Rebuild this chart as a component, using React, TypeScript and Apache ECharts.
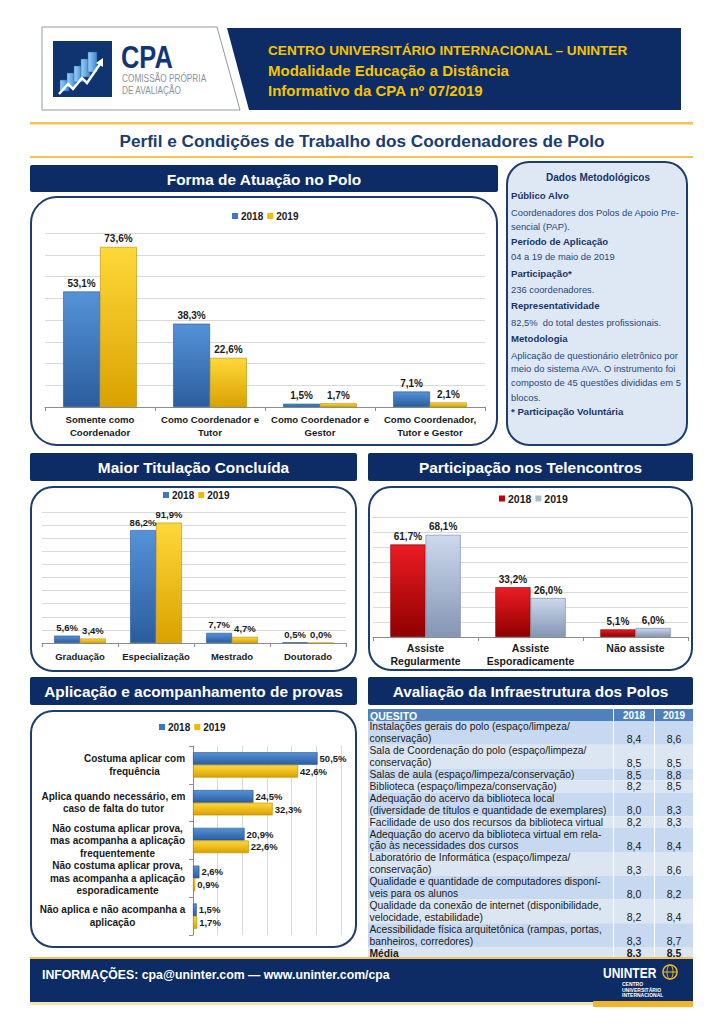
import React, { useEffect, useRef } from 'react';
import * as echarts from 'echarts';

// ---------- DATA ----------
const formaCats = ['Somente como\nCoordenador', 'Como Coordenador e\nTutor', 'Como Coordenador e\nGestor', 'Como Coordenador,\nTutor e Gestor'];
const forma2018 = [53.1, 38.3, 1.5, 7.1];
const forma2019 = [73.6, 22.6, 1.7, 2.1];

const titCats = ['Graduação', 'Especialização', 'Mestrado', 'Doutorado'];
const tit2018 = [5.6, 86.2, 7.7, 0.5];
const tit2019 = [3.4, 91.9, 4.7, 0.0];

const telCats = ['Assiste\nRegularmente', 'Assiste\nEsporadicamente', 'Não assiste'];
const tel2018 = [61.7, 33.2, 5.1];
const tel2019 = [68.1, 26.0, 6.0];

const provCats = [
  'Costuma aplicar com\nfrequência',
  'Aplica quando necessário, em\ncaso de falta do tutor',
  'Não costuma aplicar prova,\nmas acompanha a aplicação\nfrequentemente',
  'Não costuma aplicar prova,\nmas acompanha a aplicação\nesporadicamente',
  'Não aplica e não acompanha a\naplicação',
];
const prov2018 = [50.5, 24.5, 20.9, 2.6, 1.5];
const prov2019 = [42.6, 32.3, 22.6, 0.9, 1.7];

const quesitos = [
  'Instalações gerais do polo (espaço/limpeza/\nconservação)',
  'Sala de Coordenação do polo (espaço/limpeza/\nconservação)',
  'Salas de aula (espaço/limpeza/conservação)',
  'Biblioteca (espaço/limpeza/conservação)',
  'Adequação do acervo da biblioteca local\n(diversidade de títulos e quantidade de exemplares)',
  'Facilidade de uso dos recursos da biblioteca virtual',
  'Adequação do acervo da biblioteca virtual em rela-\nção às necessidades dos cursos',
  'Laboratório de Informática (espaço/limpeza/\nconservação)',
  'Qualidade e quantidade de computadores disponí-\nveis para os alunos',
  'Qualidade da conexão de internet (disponibilidade,\nvelocidade, estabilidade)',
  'Acessibilidade física arquitetônica (rampas, portas,\nbanheiros, corredores)',
  'Média',
];
const nota2018 = [8.4, 8.5, 8.5, 8.2, 8.0, 8.2, 8.4, 8.3, 8.0, 8.2, 8.3, 8.3];
const nota2019 = [8.6, 8.5, 8.8, 8.5, 8.3, 8.3, 8.4, 8.6, 8.2, 8.4, 8.7, 8.5];

const metodologia: [string, boolean][] = [
  ['Público Alvo', true],
  ['Coordenadores dos Polos de Apoio Pre-', false],
  ['sencial (PAP).', false],
  ['Período de Aplicação', true],
  ['04 a 19 de maio de 2019', false],
  ['Participação*', true],
  ['236 coordenadores.', false],
  ['Representatividade', true],
  ['82,5%  do total destes profissionais.', false],
  ['Metodologia', true],
  ['Aplicação de questionário eletrônico por', false],
  ['meio do sistema AVA. O instrumento foi', false],
  ['composto de 45 questões divididas em 5', false],
  ['blocos.', false],
  ['* Participação Voluntária', true],
];

// ---------- STYLE ----------
const F = '"Liberation Sans", Arial, sans-serif';
const NAVY = '#0d2c66';
const BORDER = '#1f3d6b';
const ORANGE = '#f6c257';
const metY = [195, 212, 226, 241, 256, 273, 289, 305, 322, 338, 355, 368, 382, 397, 411];

const grad = (c1: string, c2: string) =>
  new echarts.graphic.LinearGradient(0, 0, 0, 1, [
    { offset: 0, color: c1 },
    { offset: 1, color: c2 },
  ]);
const gradH = (c1: string, c2: string) =>
  new echarts.graphic.LinearGradient(0, 0, 1, 0, [
    { offset: 0, color: c1 },
    { offset: 1, color: c2 },
  ]);

const pct = (p: any) => Number(p.value).toFixed(1).replace('.', ',') + '%';
const dec = (v: number) => v.toFixed(1).replace('.', ',');

const txt = (text: string, x: number, y: number, size: number, o: any = {}) => ({
  type: 'text',
  x,
  y,
  z: 20,
  scaleX: o.scaleX || 1,
  silent: true,
  style: {
    text,
    fontSize: size,
    fontFamily: F,
    fontWeight: o.bold ? 'bold' : 'normal',
    fill: o.color || '#000',
    align: o.align || 'left',
    textAlign: o.align || 'left',
    verticalAlign: 'middle',
    textVerticalAlign: 'middle',
  },
});
const rect = (x: number, y: number, w: number, h: number, style: any, r = 0) => ({
  type: 'rect',
  z: 10,
  silent: true,
  shape: { x, y, width: w, height: h, r },
  style,
});

export default function App() {
  const ref = useRef<HTMLDivElement>(null);

  useEffect(() => {
    if (!ref.current) return;
    const chart = echarts.init(ref.current, undefined, { renderer: 'svg' });

    // measure widest line of each provas label to centre lines within block
    const ctx = document.createElement('canvas').getContext('2d')!;
    ctx.font = 'bold 10px "Liberation Sans"';
    const rich: any = {};
    provCats.forEach((c, i) => {
      const w = Math.max(...c.split('\n').map((l) => ctx.measureText(l).width));
      rich['c' + i] = {
        width: Math.ceil(w) + 1,
        align: 'center',
        fontWeight: 'bold',
        fontSize: 10,
        fontFamily: F,
        color: '#1a1a1a',
        lineHeight: 12.5,
      };
    });

    const rowLines = quesitos.map((q) => q.split('\n').length);
    const rowStart: number[] = [];
    rowLines.forEach((n, i) => rowStart.push(i === 0 ? 0 : rowStart[i - 1] + rowLines[i - 1]));
    const totalLines = rowLines.reduce((a, b) => a + b, 0);

    const blue = grad('#5592d8', '#2b5d9d');
    const gold = grad('#ffd83a', '#d9a200');
    const red = grad('#ec1c24', '#8f0000');
    const grey = grad('#cdd9ec', '#8496b3');

    const labelStyle = (size: number) => ({
      show: true,
      position: 'top',
      distance: 3,
      formatter: pct,
      fontSize: size,
      fontWeight: 'bold',
      fontFamily: F,
      color: '#1a1a1a',
    });

    const catAxis = (gridIndex: number, data: string[], size: number, margin: number, lh: number) => ({
      type: 'category',
      gridIndex,
      data,
      axisLine: { lineStyle: { color: '#8c8c8c', width: 1 } },
      axisTick: { show: true, length: 4, lineStyle: { color: '#8c8c8c' } },
      axisLabel: {
        interval: 0,
        fontSize: size,
        fontWeight: 'bold',
        fontFamily: F,
        color: '#1a1a1a',
        lineHeight: lh,
        margin,
      },
    });
    const valAxis = (gridIndex: number, max: number) => ({
      type: 'value',
      gridIndex,
      min: 0,
      max,
      interval: 10,
      axisLabel: { show: false },
      axisLine: { show: false },
      axisTick: { show: false },
      splitLine: { lineStyle: { color: '#d9d9d9', width: 1 } },
    });

    const legend = (left: number, top: number, c1: string, c2: string, size: number) => ({
      left,
      top,
      itemWidth: 6,
      itemHeight: 6,
      itemGap: 4,
      icon: 'rect',
      selectedMode: false,
      padding: 0,
      textStyle: { fontSize: size, fontWeight: 'bold', fontFamily: F, color: '#1a1a1a', padding: [0, 0, 0, -2] },
      data: [
        { name: '2018', itemStyle: { color: c1, borderWidth: 0 } },
        { name: '2019', itemStyle: { color: c2, borderWidth: 0 } },
      ],
    });

    const elements: any[] = [];
    // header
    elements.push({
      type: 'polygon', z: 10, silent: true,
      shape: { points: [[42, 27], [217, 27], [240, 110], [42, 110]] },
      style: { fill: '#fff', stroke: '#9099a6', lineWidth: 1 },
    });
    elements.push({
      type: 'polygon', z: 10, silent: true,
      shape: { points: [[227, 28], [681, 28], [681, 110], [249, 110]] },
      style: { fill: NAVY },
    });
    elements.push(txt('CENTRO UNIVERSITÁRIO INTERNACIONAL – UNINTER', 268, 50, 13.6, { bold: true, color: '#f5c400' }));
    elements.push(txt('Modalidade Educação a Distância', 268, 70, 15, { bold: true, color: '#f5c400' }));
    elements.push(txt('Informativo da CPA nº 07/2019', 268, 90, 15, { bold: true, color: '#f5c400' }));
    // logo
    elements.push(rect(53, 41, 59, 56, { fill: '#0f3470' }));
    const steps = [
      [60, 80, 9, 11], [67, 73, 9, 14], [74, 66, 9, 16], [81, 59, 9, 18], [88, 52, 9, 20],
    ];
    steps.forEach((s) =>
      elements.push(rect(s[0], s[1], s[2], s[3], { fill: gradH('#9fd2f5', '#3a86d3'), stroke: '#1d5fa8', lineWidth: 0.5 }))
    );
    elements.push({
      type: 'polyline', z: 12, silent: true,
      shape: { points: [[59, 94], [68, 84], [73, 89], [82, 78], [87, 83], [100, 64]] },
      style: { stroke: '#fff', lineWidth: 2.5, fill: 'none' },
    });
    elements.push({
      type: 'polygon', z: 12, silent: true,
      shape: { points: [[96, 63], [103, 58], [103, 67]] },
      style: { fill: '#fff' },
    });
    elements.push(txt('CPA', 121, 57, 31, { bold: true, color: '#123575', scaleX: 0.82 }));
    elements.push(txt('COMISSÃO PRÓPRIA', 122, 78, 11.5, { color: '#8a929c', scaleX: 0.72 }));
    elements.push(txt('DE AVALIAÇÃO', 122, 90, 11.5, { color: '#8a929c', scaleX: 0.72 }));
    // lines and title
    elements.push(rect(30, 122, 663, 2.5, { fill: ORANGE }));
    elements.push(txt('Perfil e Condições de Trabalho dos Coordenadores de Polo', 362, 141, 17.2, { bold: true, color: '#1c3b6e', align: 'center' }));
    elements.push(rect(30, 156, 663, 2, { fill: ORANGE }));
    // section headers
    const sec = (x: number, y: number, w: number, h: number, t: string) => {
      elements.push(rect(x, y, w, h, { fill: NAVY }, 2));
      elements.push(txt(t, x + w / 2, y + h / 2 + 0.5, 15.4, { bold: true, color: '#fff', align: 'center' }));
    };
    sec(30, 165, 468, 27, 'Forma de Atuação no Polo');
    sec(30, 453, 327, 28, 'Maior Titulação Concluída');
    sec(368, 453, 325, 28, 'Participação nos Telencontros');
    sec(30, 677, 327, 28, 'Aplicação e acompanhamento de provas');
    sec(368, 677, 325, 28, 'Avaliação da Infraestrutura dos Polos');
    // chart boxes
    const boxStyle = { fill: 'none', stroke: BORDER, lineWidth: 2 };
    elements.push(rect(31, 197, 466, 248, boxStyle, 26));
    elements.push(rect(31, 487, 325, 184, boxStyle, 22));
    elements.push(rect(369, 487, 323, 183, boxStyle, 22));
    elements.push(rect(31, 711, 325, 236, boxStyle, 22));
    // methodology
    elements.push(rect(507, 162, 180, 283, { fill: '#dde8f4', stroke: BORDER, lineWidth: 2 }, 22));
    elements.push(txt('Dados Metodológicos', 598, 177, 10, { bold: true, color: '#17346a', align: 'center' }));
    metodologia.forEach(([t, b], i) =>
      elements.push(txt(t, 511, metY[i], b ? 9.6 : 9.4, { bold: b, color: b ? '#17346a' : '#27477f' }))
    );
    // table header
    elements.push(rect(30, 957, 663, 2, { fill: ORANGE }));
    elements.push(rect(368, 709, 245, 12, { fill: '#4f81bd' }));
    elements.push(rect(614, 709, 40, 12, { fill: '#4f81bd' }));
    elements.push(rect(655, 709, 38, 12, { fill: '#4f81bd' }));
    elements.push(txt('QUESITO', 370, 715.5, 10.5, { bold: true, color: '#fff' }));
    elements.push(txt('2018', 634, 715.5, 10, { bold: true, color: '#fff', align: 'center' }));
    elements.push(txt('2019', 674, 715.5, 10, { bold: true, color: '#fff', align: 'center' }));
    // footer
    elements.push(rect(30, 959, 663, 43, { fill: NAVY }));
    elements.push(txt('INFORMAÇÕES: cpa@uninter.com — www.uninter.com/cpa', 42, 975, 12.3, { bold: true, color: '#fff' }));
    elements.push(rect(30, 1002, 563, 3, { fill: '#fbe3b0' }));
    elements.push(rect(593, 1001, 100, 6, { fill: '#f4b428' }, 1));
    elements.push(txt('UNINTER', 603, 973, 15, { bold: true, color: '#fff', scaleX: 0.8 }));
    elements.push({
      type: 'circle', z: 20, silent: true,
      shape: { cx: 670, cy: 972, r: 7 },
      style: { fill: 'none', stroke: '#f2b71f', lineWidth: 1.5 },
    });
    elements.push({
      type: 'ellipse', z: 20, silent: true,
      shape: { cx: 670, cy: 972, rx: 3, ry: 7 },
      style: { fill: 'none', stroke: '#f2b71f', lineWidth: 1 },
    });
    elements.push({
      type: 'line', z: 20, silent: true,
      shape: { x1: 663, y1: 972, x2: 677, y2: 972 },
      style: { stroke: '#f2b71f', lineWidth: 1 },
    });
    elements.push(txt('CENTRO', 622, 984, 5, { color: '#fff', bold: true }));
    elements.push(txt('UNIVERSITÁRIO', 622, 989.5, 5, { color: '#fff', bold: true }));
    elements.push(txt('INTERNACIONAL', 622, 995, 5, { color: '#fff', bold: true }));

    const option: any = {
      animation: false,
      textStyle: { fontFamily: F },
      grid: [
        { left: 45, top: 233, width: 440, height: 174, outerBoundsMode: 'none' },
        { left: 42, top: 512, width: 304, height: 131, outerBoundsMode: 'none' },
        { left: 373, top: 517, width: 315, height: 120, outerBoundsMode: 'none' },
        { left: 193, top: 746, width: 148, height: 189, outerBoundsMode: 'none' },
        { left: 368, top: 721, width: 325, height: 238, outerBoundsMode: 'none' },
      ],
      xAxis: [
        catAxis(0, formaCats, 9.6, 6, 13),
        catAxis(1, titCats, 9.5, 7, 13),
        catAxis(2, telCats, 10.5, 5, 12.5),
        {
          type: 'value', gridIndex: 3, min: 0, max: 60, interval: 10,
          axisLabel: { show: false }, axisLine: { show: false }, axisTick: { show: false },
          splitLine: { lineStyle: { color: '#d9d9d9' } },
        },
        { type: 'value', gridIndex: 4, min: 0, max: 1, show: false },
      ],
      yAxis: [
        valAxis(0, 80),
        valAxis(1, 100),
        valAxis(2, 80),
        {
          type: 'category', gridIndex: 3, data: provCats, inverse: true,
          axisLine: { lineStyle: { color: '#8c8c8c' } },
          axisTick: { show: true, length: 4, lineStyle: { color: '#8c8c8c' } },
          axisLabel: {
            interval: 0,
            align: 'right',
            margin: 7,
            formatter: (v: string, i: number) => v.split('\n').map((l) => `{c${i}|${l}}`).join('\n'),
            rich,
          },
        },
        { type: 'value', gridIndex: 4, min: 0, max: totalLines, inverse: true, show: false },
      ],
      legend: [
        legend(232, 211, '#3b78c0', '#f0bc00', 10),
        legend(163, 490, '#3b78c0', '#f0bc00', 10),
        legend(499, 493, '#c00000', '#a9b8d2', 10.5),
        legend(159, 722, '#3b78c0', '#f0bc00', 10),
      ],
      series: [
        {
          name: '2018', type: 'bar', xAxisIndex: 0, yAxisIndex: 0, data: forma2018,
          barGap: '0%', barCategoryGap: '33%',
          itemStyle: { color: blue, borderColor: '#24548c', borderWidth: 0.6 },
          label: labelStyle(10),
        },
        {
          name: '2019', type: 'bar', xAxisIndex: 0, yAxisIndex: 0, data: forma2019,
          barGap: '0%', barCategoryGap: '33%',
          itemStyle: { color: gold, borderColor: '#b88a00', borderWidth: 0.6 },
          label: labelStyle(10),
        },
        {
          name: '2018', type: 'bar', xAxisIndex: 1, yAxisIndex: 1, data: tit2018,
          barGap: '0%', barCategoryGap: '32%',
          itemStyle: { color: blue, borderColor: '#24548c', borderWidth: 0.6 },
          label: labelStyle(9.5),
        },
        {
          name: '2019', type: 'bar', xAxisIndex: 1, yAxisIndex: 1, data: tit2019,
          barGap: '0%', barCategoryGap: '32%',
          itemStyle: { color: gold, borderColor: '#b88a00', borderWidth: 0.6 },
          label: labelStyle(9.5),
        },
        {
          name: '2018', type: 'bar', xAxisIndex: 2, yAxisIndex: 2, data: tel2018,
          barGap: '0%', barCategoryGap: '33%',
          itemStyle: { color: red, borderColor: '#7a0000', borderWidth: 0.6 },
          label: labelStyle(10),
        },
        {
          name: '2019', type: 'bar', xAxisIndex: 2, yAxisIndex: 2, data: tel2019,
          barGap: '0%', barCategoryGap: '33%',
          itemStyle: { color: grey, borderColor: '#6f819e', borderWidth: 0.6 },
          label: labelStyle(10),
        },
        {
          name: '2018', type: 'bar', xAxisIndex: 3, yAxisIndex: 3, data: prov2018,
          barGap: '0%', barCategoryGap: '33%',
          itemStyle: { color: blue, borderColor: '#24548c', borderWidth: 0.6 },
          label: { ...labelStyle(9.5), position: 'right', distance: 2 },
        },
        {
          name: '2019', type: 'bar', xAxisIndex: 3, yAxisIndex: 3, data: prov2019,
          barGap: '0%', barCategoryGap: '33%',
          itemStyle: { color: gold, borderColor: '#b88a00', borderWidth: 0.6 },
          label: { ...labelStyle(9.5), position: 'right', distance: 2 },
        },
        {
          name: 'Infraestrutura',
          type: 'custom',
          xAxisIndex: 4,
          yAxisIndex: 4,
          clip: false,
          data: quesitos.map((_, i) => [0, rowStart[i], rowLines[i], nota2018[i], nota2019[i]]),
          renderItem: (params: any, api: any) => {
            const idx = params.dataIndex;
            const top = api.coord([0, rowStart[idx]])[1];
            const bot = api.coord([0, rowStart[idx] + rowLines[idx]])[1];
            const cs = params.coordSys;
            const x0 = cs.x;
            const labW = 245;
            const c1X = x0 + labW + 1;
            const c1W = 40;
            const c2X = c1X + c1W + 1;
            const c2W = x0 + cs.width - c2X;
            const h = bot - top;
            const lh = h / rowLines[idx];
            const fill = idx % 2 === 0 ? '#c6d9f0' : '#dce6f2';
            const bold = idx === quesitos.length - 1;
            const tf = { fontSize: 10.3, fontFamily: F, fontWeight: bold ? 'bold' : 'normal', fill: '#1a1a1a' };
            return {
              type: 'group',
              children: [
                { type: 'rect', shape: { x: x0, y: top, width: labW, height: h }, style: { fill } },
                { type: 'rect', shape: { x: c1X, y: top, width: c1W, height: h }, style: { fill } },
                { type: 'rect', shape: { x: c2X, y: top, width: c2W, height: h }, style: { fill } },
                {
                  type: 'text',
                  style: {
                    ...tf, text: quesitos[idx], x: x0 + 1.5, y: top,
                    lineHeight: lh, align: 'left', verticalAlign: 'top',
                  },
                },
                {
                  type: 'text',
                  style: {
                    ...tf, fontSize: 10.5, text: dec(api.value(3)), x: c1X + c1W / 2, y: bot - lh / 2,
                    align: 'center', verticalAlign: 'middle',
                  },
                },
                {
                  type: 'text',
                  style: {
                    ...tf, fontSize: 10.5, text: dec(api.value(4)), x: c2X + c2W / 2, y: bot - lh / 2,
                    align: 'center', verticalAlign: 'middle',
                  },
                },
              ],
            };
          },
        },
      ],
      graphic: { elements },
    };

    chart.setOption(option);
    return () => chart.dispose();
  }, []);

  return <div ref={ref} style={{ position: 'absolute', left: 0, top: 0, width: 724, height: 1024 }} />;
}
